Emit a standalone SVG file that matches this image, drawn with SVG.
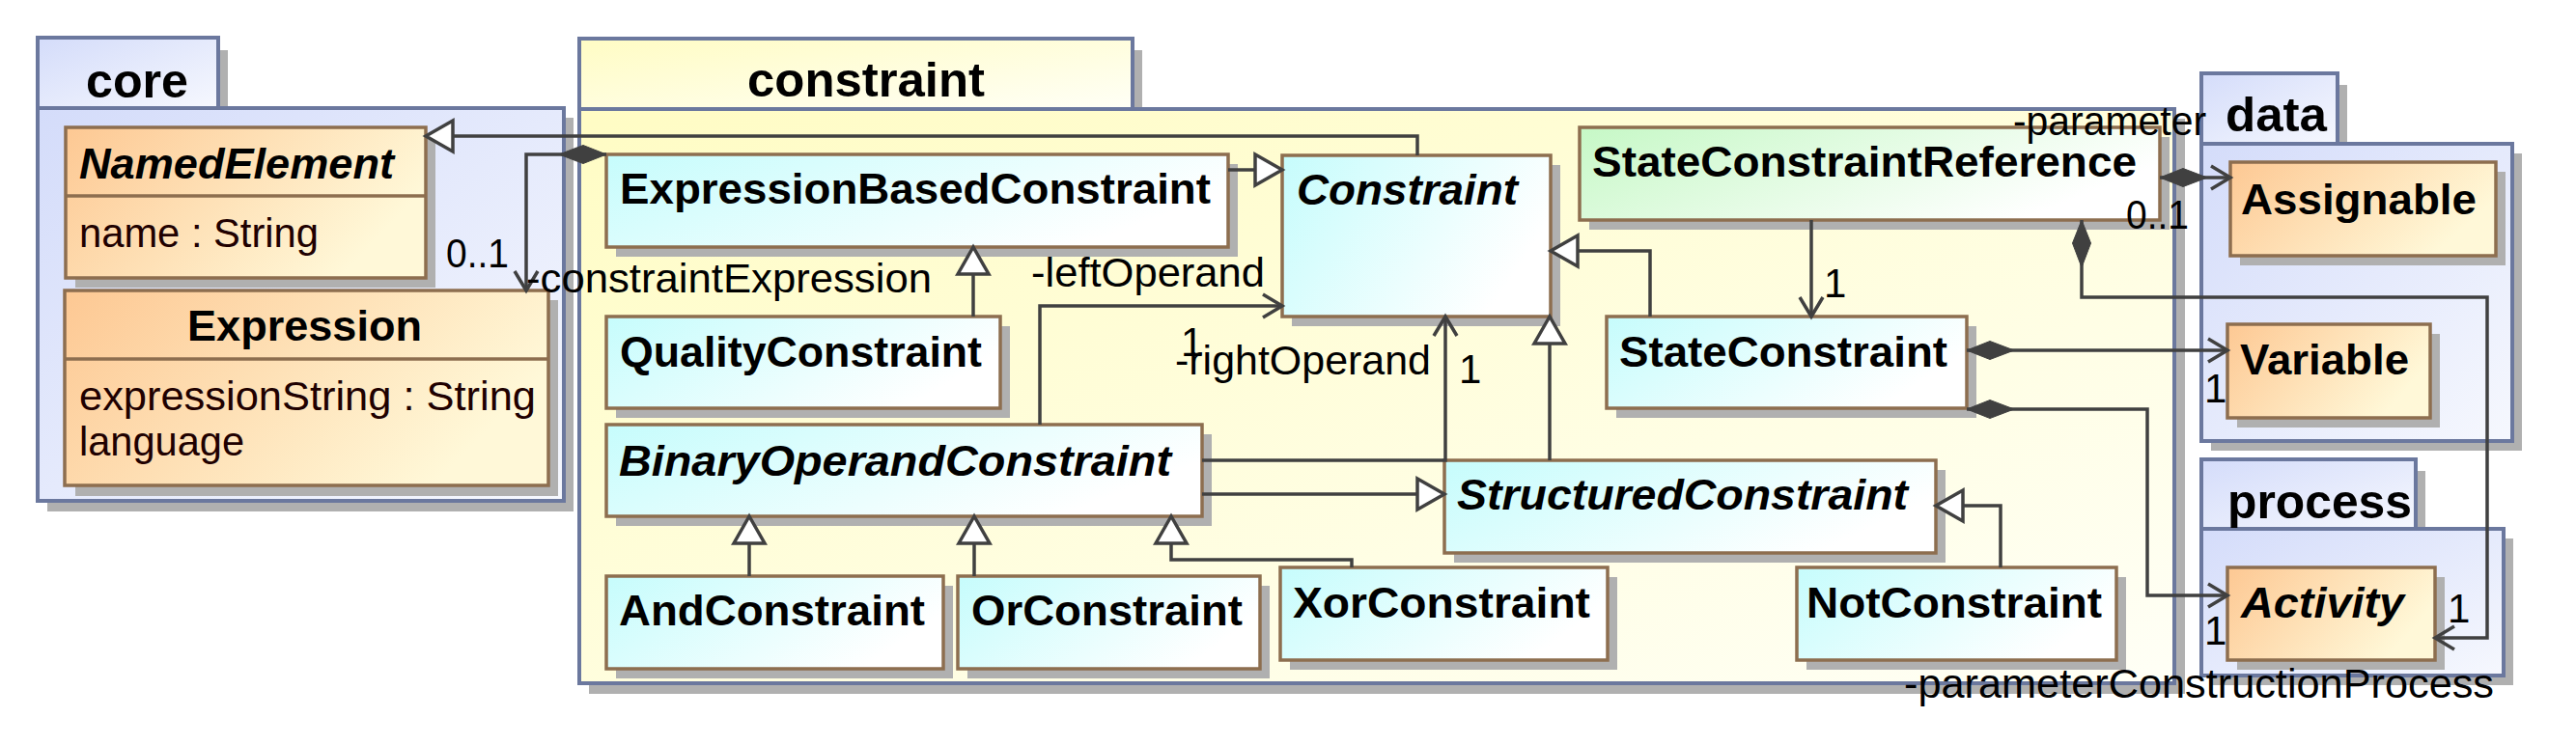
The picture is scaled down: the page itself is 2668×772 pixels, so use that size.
<svg xmlns="http://www.w3.org/2000/svg" width="2668" height="772" viewBox="0 0 2668 772">
<defs>
  <linearGradient id="gPkgBlue" x1="0" y1="0" x2="1" y2="1">
    <stop offset="0" stop-color="#d4dcfa"/><stop offset="1" stop-color="#f6f8fe"/>
  </linearGradient>
  <linearGradient id="gPkgYel" x1="0" y1="0" x2="1" y2="1">
    <stop offset="0" stop-color="#fffcc4"/><stop offset="1" stop-color="#fffff6"/>
  </linearGradient>
  <linearGradient id="gOrange" x1="0" y1="0" x2="1" y2="0.4">
    <stop offset="0" stop-color="#fdc893"/><stop offset="1" stop-color="#fff8d8"/>
  </linearGradient>
  <linearGradient id="gCyan" x1="0" y1="0" x2="1" y2="0.4">
    <stop offset="0" stop-color="#c6fcfc"/><stop offset="1" stop-color="#ffffff"/>
  </linearGradient>
  <linearGradient id="gGreen" x1="0" y1="0" x2="1" y2="0.4">
    <stop offset="0" stop-color="#c6f8c6"/><stop offset="1" stop-color="#ffffff"/>
  </linearGradient>
  <marker id="mGen" markerUnits="userSpaceOnUse" markerWidth="34" markerHeight="40" refX="30" refY="18" orient="auto" overflow="visible">
    <polygon points="2,2 30,18 2,34" fill="#ffffff" stroke="#404040" stroke-width="3.5"/>
  </marker>
  <marker id="mArrow" markerUnits="userSpaceOnUse" markerWidth="26" markerHeight="30" refX="22" refY="14" orient="auto" overflow="visible">
    <polyline points="2,2 22,14 2,26" fill="none" stroke="#404040" stroke-width="3.5"/>
  </marker>
  <marker id="mDiamond" markerUnits="userSpaceOnUse" markerWidth="50" markerHeight="22" refX="0" refY="11" orient="auto" overflow="visible">
    <polygon points="0,11 24,1.5 49,11 24,20.5" fill="#404040" stroke="#404040" stroke-width="1"/>
  </marker>
</defs>
<style>
  .shadow{fill:#b0b0b0}
  .pkgb{stroke:#6b789e;stroke-width:4;fill:url(#gPkgBlue)}
  .pkgy{stroke:#6b789e;stroke-width:4;fill:url(#gPkgYel)}
  .cls{stroke:#8d6e4f;stroke-width:3.5}
  .or{fill:url(#gOrange)}
  .cy{fill:url(#gCyan)}
  .gr{fill:url(#gGreen)}
  .sep{stroke:#8d6e4f;stroke-width:3.5}
  text{font-family:"Liberation Sans",Arial,sans-serif;fill:#000000}
  .ptitle{font-size:50px;font-weight:bold}
  .cname{font-size:44px;font-weight:bold}
  .abs{font-style:italic}
  .attr{font-size:42px;fill:#200000}
  .lbl{font-size:42px}
  .conn{fill:none;stroke:#404040;stroke-width:3.5}
  .gen{marker-end:url(#mGen)}
  .nav{marker-end:url(#mArrow)}
  .comp{marker-start:url(#mDiamond)}
</style>

<!-- Packages -->
<g id="pkg-core">
  <rect class="shadow" x="49" y="52" width="187" height="70"/>
  <rect class="shadow" x="49" y="122" width="545" height="408"/>
  <rect class="pkgb" x="39" y="112" width="545" height="407"/>
  <rect class="pkgb" x="39" y="39" width="187" height="73"/>
  <text class="ptitle" x="89" y="101" textLength="106" lengthAdjust="spacingAndGlyphs">core</text>
</g>
<g id="pkg-constraint">
  <rect class="shadow" x="610" y="52" width="573" height="72"/>
  <rect class="shadow" x="610" y="123" width="1653" height="596"/>
  <rect class="pkgy" x="600" y="113" width="1652" height="595"/>
  <rect class="pkgy" x="600" y="40" width="573" height="73"/>
  <text class="ptitle" x="774" y="100" textLength="246" lengthAdjust="spacingAndGlyphs">constraint</text>
</g>
<g id="pkg-data">
  <rect class="shadow" x="2290" y="88" width="141" height="71"/>
  <rect class="shadow" x="2290" y="159" width="322" height="308"/>
  <rect class="pkgb" x="2280" y="149" width="322" height="308"/>
  <rect class="pkgb" x="2280" y="76" width="141" height="73"/>
  <text class="ptitle" x="2305" y="136" textLength="105" lengthAdjust="spacingAndGlyphs">data</text>
</g>
<g id="pkg-process">
  <rect class="shadow" x="2290" y="488" width="222" height="70"/>
  <rect class="shadow" x="2290" y="558" width="313" height="152"/>
  <rect class="pkgb" x="2280" y="548" width="313" height="152"/>
  <rect class="pkgb" x="2280" y="476" width="222" height="72"/>
  <text class="ptitle" x="2307" y="537" textLength="191" lengthAdjust="spacingAndGlyphs">process</text>
</g>

<!-- Classes -->
<g id="NamedElement">
  <rect class="shadow" x="78" y="142" width="373" height="156"/>
  <rect class="cls or" x="68" y="132" width="373" height="156"/>
  <line class="sep" x1="68" y1="203" x2="441" y2="203"/>
  <text class="cname abs" x="82" y="185" textLength="326" lengthAdjust="spacingAndGlyphs">NamedElement</text>
  <text class="attr" x="82" y="256" textLength="248" lengthAdjust="spacingAndGlyphs">name : String</text>
</g>
<g id="Expression">
  <rect class="shadow" x="78" y="311" width="500" height="203"/>
  <rect class="cls or" x="67" y="301" width="501" height="202"/>
  <line class="sep" x1="67" y1="372" x2="568" y2="372"/>
  <text class="cname" x="194" y="353" textLength="243" lengthAdjust="spacingAndGlyphs">Expression</text>
  <text class="attr" x="82" y="425" textLength="473" lengthAdjust="spacingAndGlyphs">expressionString : String</text>
  <text class="attr" x="82" y="472" textLength="171" lengthAdjust="spacingAndGlyphs">language</text>
</g>
<g id="ExpressionBasedConstraint">
  <rect class="shadow" x="638" y="170" width="644" height="96"/>
  <rect class="cls cy" x="628" y="160" width="644" height="96"/>
  <text class="cname" x="642" y="211" textLength="612" lengthAdjust="spacingAndGlyphs">ExpressionBasedConstraint</text>
</g>
<g id="Constraint">
  <rect class="shadow" x="1338" y="171" width="278" height="167"/>
  <rect class="cls cy" x="1328" y="161" width="278" height="167"/>
  <text class="cname abs" x="1343" y="212" textLength="229" lengthAdjust="spacingAndGlyphs">Constraint</text>
</g>
<g id="StateConstraintReference">
  <rect class="shadow" x="1646" y="142" width="601" height="96"/>
  <rect class="cls gr" x="1636" y="132" width="601" height="96"/>
  <text class="cname" x="1649" y="183" textLength="564" lengthAdjust="spacingAndGlyphs">StateConstraintReference</text>
</g>
<g id="QualityConstraint">
  <rect class="shadow" x="638" y="338" width="408" height="95"/>
  <rect class="cls cy" x="628" y="328" width="408" height="95"/>
  <text class="cname" x="642" y="380" textLength="375" lengthAdjust="spacingAndGlyphs">QualityConstraint</text>
</g>
<g id="StateConstraint">
  <rect class="shadow" x="1674" y="338" width="373" height="95"/>
  <rect class="cls cy" x="1664" y="328" width="373" height="95"/>
  <text class="cname" x="1677" y="380" textLength="340" lengthAdjust="spacingAndGlyphs">StateConstraint</text>
</g>
<g id="BinaryOperandConstraint">
  <rect class="shadow" x="638" y="450" width="617" height="95"/>
  <rect class="cls cy" x="628" y="440" width="617" height="95"/>
  <text class="cname abs" x="641" y="493" textLength="572" lengthAdjust="spacingAndGlyphs">BinaryOperandConstraint</text>
</g>
<g id="StructuredConstraint">
  <rect class="shadow" x="1506" y="487" width="509" height="96"/>
  <rect class="cls cy" x="1496" y="477" width="509" height="96"/>
  <text class="cname abs" x="1509" y="528" textLength="467" lengthAdjust="spacingAndGlyphs">StructuredConstraint</text>
</g>
<g id="AndConstraint">
  <rect class="shadow" x="638" y="607" width="349" height="96"/>
  <rect class="cls cy" x="628" y="597" width="349" height="96"/>
  <text class="cname" x="641" y="648" textLength="317" lengthAdjust="spacingAndGlyphs">AndConstraint</text>
</g>
<g id="OrConstraint">
  <rect class="shadow" x="1002" y="607" width="313" height="96"/>
  <rect class="cls cy" x="992" y="597" width="313" height="96"/>
  <text class="cname" x="1006" y="648" textLength="281" lengthAdjust="spacingAndGlyphs">OrConstraint</text>
</g>
<g id="XorConstraint">
  <rect class="shadow" x="1336" y="598" width="339" height="96"/>
  <rect class="cls cy" x="1326" y="588" width="339" height="96"/>
  <text class="cname" x="1339" y="640" textLength="308" lengthAdjust="spacingAndGlyphs">XorConstraint</text>
</g>
<g id="NotConstraint">
  <rect class="shadow" x="1871" y="598" width="331" height="96"/>
  <rect class="cls cy" x="1861" y="588" width="331" height="96"/>
  <text class="cname" x="1871" y="640" textLength="306" lengthAdjust="spacingAndGlyphs">NotConstraint</text>
</g>
<g id="Assignable">
  <rect class="shadow" x="2320" y="178" width="275" height="97"/>
  <rect class="cls or" x="2310" y="168" width="275" height="97"/>
  <text class="cname" x="2321" y="222" textLength="244" lengthAdjust="spacingAndGlyphs">Assignable</text>
</g>
<g id="Variable">
  <rect class="shadow" x="2317" y="346" width="210" height="97"/>
  <rect class="cls or" x="2307" y="336" width="210" height="97"/>
  <text class="cname" x="2320" y="388" textLength="175" lengthAdjust="spacingAndGlyphs">Variable</text>
</g>
<g id="Activity">
  <rect class="shadow" x="2317" y="598" width="215" height="96"/>
  <rect class="cls or" x="2307" y="588" width="215" height="96"/>
  <text class="cname abs" x="2321" y="640" textLength="169" lengthAdjust="spacingAndGlyphs">Activity</text>
</g>

<!-- Connectors -->
<g id="connectors">
  <path class="conn gen" d="M1468,161 V141 H441"/>
  <path class="conn gen" d="M1272,176 H1328"/>
  <path class="conn comp nav" d="M628,160 H545 V301"/>
  <path class="conn gen" d="M1008,328 V256"/>
  <path class="conn nav" d="M1077,440 V317 H1328"/>
  <path class="conn nav" d="M1245,477 H1497 V328"/>
  <path class="conn gen" d="M1605,477 V328"/>
  <path class="conn gen" d="M1709,328 V260 H1606"/>
  <path class="conn nav" d="M1876,228 V328"/>
  <path class="conn comp nav" d="M2237,184 H2310"/>
  <path class="conn comp nav" d="M2156,228 V308 H2576 V661 H2522"/>
  <path class="conn comp nav" d="M2037,363 H2307"/>
  <path class="conn comp nav" d="M2037,424 H2224 V617 H2307"/>
  <path class="conn gen" d="M1245,512 H1496"/>
  <path class="conn gen" d="M776,597 V535"/>
  <path class="conn gen" d="M1009,597 V535"/>
  <path class="conn gen" d="M1400,588 V580 H1213 V535"/>
  <path class="conn gen" d="M2072,588 V524 H2005"/>

  <text class="lbl" x="462" y="277" textLength="65" lengthAdjust="spacingAndGlyphs">0..1</text>
  <text class="lbl" x="545" y="303" textLength="420" lengthAdjust="spacingAndGlyphs">-constraintExpression</text>
  <text class="lbl" x="1068" y="297" textLength="242" lengthAdjust="spacingAndGlyphs">-leftOperand</text>
  <text class="lbl" x="1223" y="369">1</text>
  <text class="lbl" x="1217" y="388" textLength="265" lengthAdjust="spacingAndGlyphs">-rightOperand</text>
  <text class="lbl" x="1511" y="397">1</text>
  <text class="lbl" x="1889" y="308">1</text>
  <text class="lbl" x="2085" y="140" textLength="200" lengthAdjust="spacingAndGlyphs">-parameter</text>
  <text class="lbl" x="2202" y="237" textLength="65" lengthAdjust="spacingAndGlyphs">0..1</text>
  <text class="lbl" x="2283" y="417">1</text>
  <text class="lbl" x="2283" y="668">1</text>
  <text class="lbl" x="2535" y="645">1</text>
  <text class="lbl" x="1972" y="723" textLength="611" lengthAdjust="spacingAndGlyphs">-parameterConstructionProcess</text>
</g>
</svg>
